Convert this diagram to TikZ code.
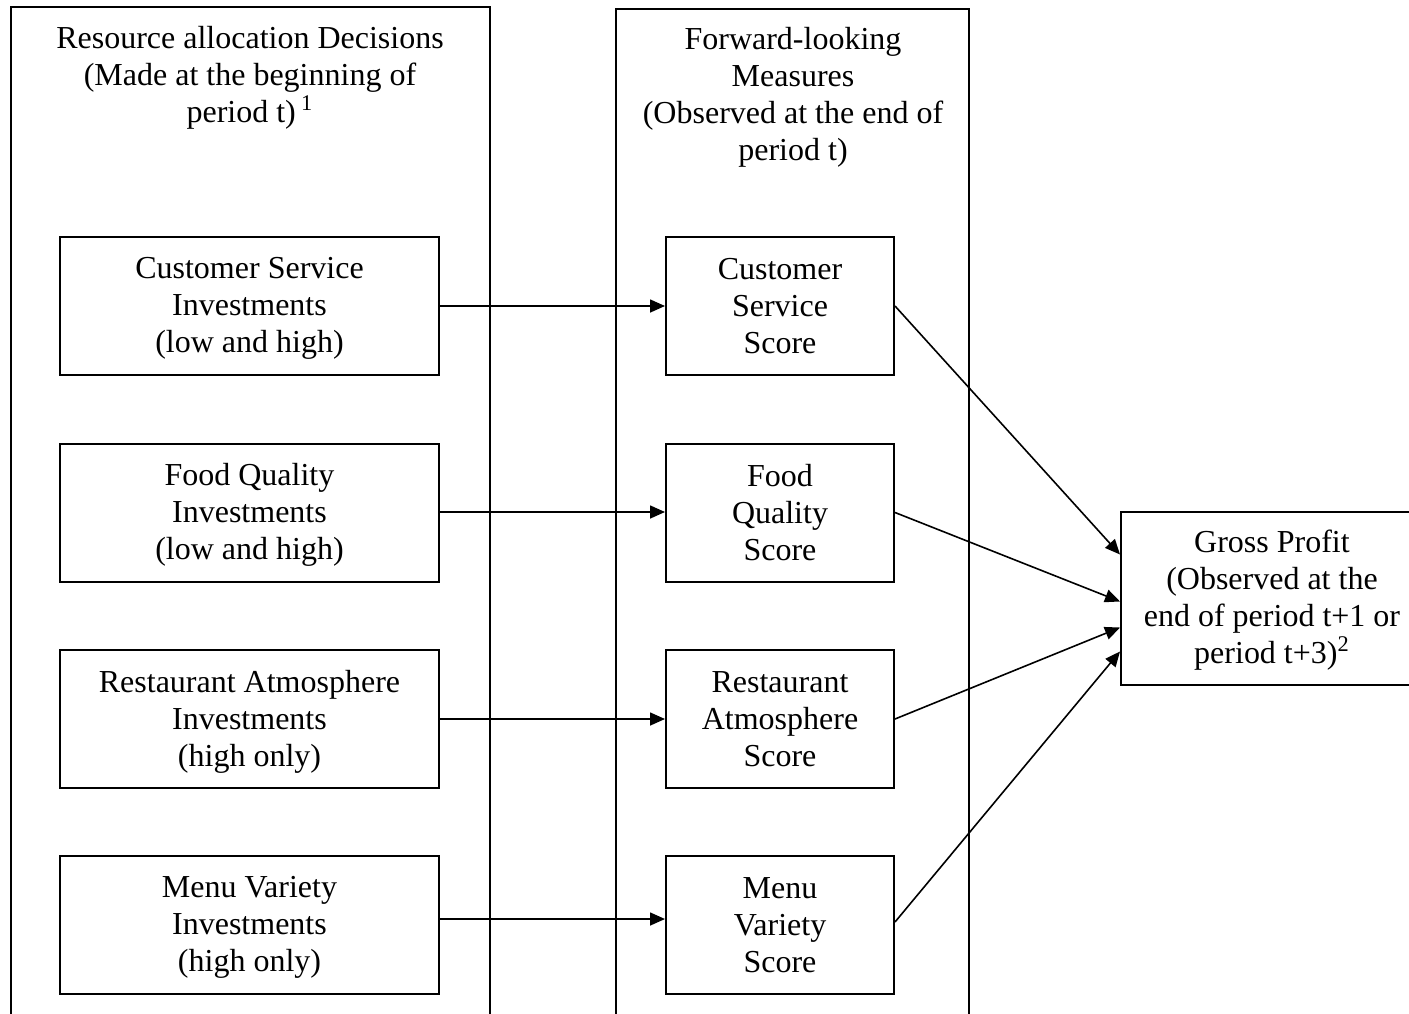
\documentclass[tikz,border=0pt]{standalone}
\usepackage{fontspec}
\setmainfont{Liberation Serif}
\usetikzlibrary{arrows.meta,calc}
\begin{document}
\begin{tikzpicture}[x=0.5pt,y=-0.5pt,
  every node/.style={font=\fontsize{16}{18.5}\selectfont, align=center, inner sep=0pt},
  investbox/.style={draw, line width=1pt, minimum width=189.5pt, minimum height=69pt},
  scorebox/.style={draw, line width=1pt, minimum width=114pt, minimum height=69pt},
  profitbox/.style={draw, line width=1pt, minimum width=151pt, minimum height=86.5pt},
  boxtext/.style={yshift=-1.2pt},
  link/.style={line width=0.8pt, -{Triangle[length=7.5pt,width=6.5pt]}},
  column/.style={line width=1pt}]
\useasboundingbox (0,0) rectangle (1409,1013);
\clip (0,0) rectangle (1409,1013);

% two open-bottomed columns
\draw[column] (11,1030) -- (11,7) -- (490,7) -- (490,1030);
\draw[column] (616,1030) -- (616,9) -- (969,9) -- (969,1030);

% column headings
\node (hleft) at (250,78) {Resource allocation Decisions\\(Made at the beginning of\\period t)\,\textsuperscript{1}};
\node (hmid) at (793,97) {Forward-looking\\Measures\\(Observed at the end of\\period t)};

% investment decisions
\node[investbox] (i1) at (249.5,306) {};
\node[investbox] (i2) at (249.5,512.5) {};
\node[investbox] (i3) at (249.5,719) {};
\node[investbox] (i4) at (249.5,925) {};
\node[boxtext] (i1t) at (i1.center) {Customer Service\\Investments\\(low and high)};
\node[boxtext] (i2t) at (i2.center) {Food Quality\\Investments\\(low and high)};
\node[boxtext] (i3t) at (i3.center) {Restaurant Atmosphere\\Investments\\(high only)};
\node[boxtext] (i4t) at (i4.center) {Menu Variety\\Investments\\(high only)};

% forward-looking scores
\node[scorebox] (s1) at (780,306) {};
\node[scorebox] (s2) at (780,512.5) {};
\node[scorebox] (s3) at (780,719) {};
\node[scorebox] (s4) at (780,925) {};
\node (s1t) at (s1.center) {Customer\\Service\\Score};
\node (s2t) at (s2.center) {Food\\Quality\\Score};
\node (s3t) at (s3.center) {Restaurant\\Atmosphere\\Score};
\node (s4t) at (s4.center) {Menu\\Variety\\Score};

% outcome
\node[profitbox] (g) at (1272,598.5) {};
\node[boxtext,yshift=0.2pt] (gt) at (g.center) {Gross Profit\\(Observed at the\\end of period t+1 or\\period t+3)\textsuperscript{2}};

% decisions to scores
\draw[link] (i1.east) -- (s1.west);
\draw[link] ($(i2.east)+(0,-0.5)$) -- ($(s2.west)+(0,-0.5)$);
\draw[link] (i3.east) -- (s3.west);
\draw[link] ($(i4.east)+(0,-6)$) -- ($(s4.west)+(0,-6)$);

% scores to profit
\draw[link] (s1.east) -- ($(g.west)+(0,-44)$);
\draw[link] (s2.east) -- ($(g.west)+(0,3)$);
\draw[link] (s3.east) -- ($(g.west)+(0,29)$);
\draw[link] ($(s4.east)+(0,-3)$) -- ($(g.west)+(0,53)$);
\end{tikzpicture}
\end{document}
